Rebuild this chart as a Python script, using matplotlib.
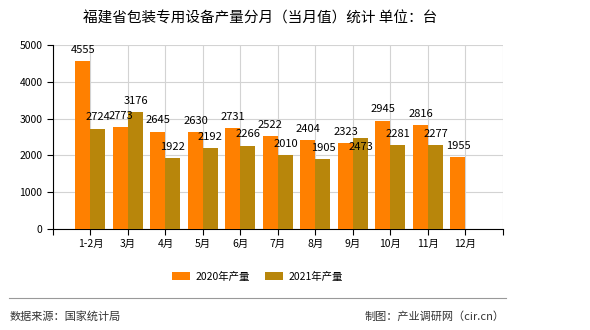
import matplotlib.pyplot as plt
import numpy as np

plt.rcParams['font.family'] = ['Noto Sans CJK SC', 'DejaVu Sans']

months = ['1-2月', '3月', '4月', '5月', '6月', '7月', '8月', '9月', '10月', '11月', '12月']
y2020 = [4555, 2773, 2645, 2630, 2731, 2522, 2404, 2323, 2945, 2816, 1955]
y2021 = [2724, 3176, 1922, 2192, 2266, 2010, 1905, 2473, 2281, 2277, None]

c2020 = '#ff8000'
c2021 = '#b8860b'

fig = plt.figure(figsize=(5.9, 3.3), dpi=100)
ax = fig.add_axes([0.0898, 0.306, 0.7627, 0.558])

x = np.arange(len(months))
w = 0.4
b1 = ax.bar(x - w / 2, y2020, width=w, color=c2020, label='2020年产量', zorder=3)
x21 = [i for i, v in zip(x, y2021) if v is not None]
v21 = [v for v in y2021 if v is not None]
b2 = ax.bar(np.array(x21) + w / 2, v21, width=w, color=c2021, label='2021年产量', zorder=3)

# 数值标签（标签重叠时把2021年的标签挪到2020年标签下面）
for xi, v in zip(x, y2020):
    ax.annotate(str(v), (xi - w / 2, v), xytext=(0, 6), textcoords='offset points',
                ha='center', va='baseline', fontsize=8, zorder=4)
for xi, v in zip(x21, v21):
    v0 = y2020[xi]
    if abs(v - v0) < 280:
        ax.annotate(str(v), (xi + w / 2, v0), xytext=(0, -4.5), textcoords='offset points',
                    ha='center', va='baseline', fontsize=8, zorder=4)
    else:
        ax.annotate(str(v), (xi + w / 2, v), xytext=(0, 6), textcoords='offset points',
                    ha='center', va='baseline', fontsize=8, zorder=4)

ax.set_xlim(-1, 11)
ax.set_ylim(0, 5000)
ax.set_yticks(range(0, 5001, 1000))
ax.set_xticks(np.arange(-1, 12))
ax.set_xticklabels([''] + months + [''])
ax.tick_params(axis='both', labelsize=7.5, length=4, direction='out')
ax.grid(True, color='#d3d3d3', linewidth=0.8, zorder=0)
for s in ['top', 'right']:
    ax.spines[s].set_visible(False)
ax.spines['left'].set_color('black')
ax.spines['bottom'].set_color('black')

fig.text(0.441, 0.945, '福建省包装专用设备产量分月（当月值）统计 单位：台',
         ha='center', va='center', fontsize=10.5)

fig.legend(handles=[b1, b2], loc='center', bbox_to_anchor=(0.436, 0.162), ncol=2,
           frameon=False, fontsize=7.5, handlelength=1.8, handleheight=0.9,
           handletextpad=0.5, columnspacing=1.4)

fig.add_artist(plt.Line2D([0.015, 0.858], [0.097, 0.097], color='#999999', linewidth=0.8))
fig.text(0.017, 0.042, '数据来源：国家统计局', ha='left', va='center', fontsize=8, color='#333333')
fig.text(0.856, 0.042, '制图：产业调研网（cir.cn）', ha='right', va='center', fontsize=8, color='#333333')

fig.savefig('out.png', dpi=100)
